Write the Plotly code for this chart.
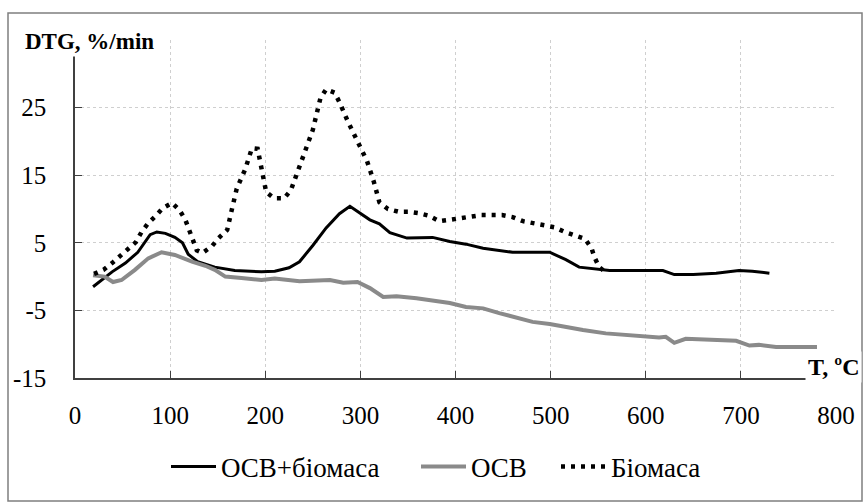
import plotly.graph_objects as go

# OCB + biomass
t_mix = [19, 30, 39, 53, 66, 79, 86, 95, 105, 113, 119, 129, 147, 168, 196, 210, 225, 236, 250, 264,
         278, 289, 299, 310, 320, 331, 349, 376, 394, 411, 429, 446, 460, 499, 509, 516, 530, 549, 562,
         618, 630, 650, 674, 698, 712, 730]
v_mix = [-1.5, -0.3, 0.7, 2.0, 3.6, 6.2, 6.6, 6.4, 5.8, 5.0, 3.3, 2.2, 1.4, 0.9, 0.7, 0.8, 1.3, 2.2, 4.6, 7.2,
         9.3, 10.4, 9.5, 8.4, 7.8, 6.5, 5.7, 5.8, 5.2, 4.8, 4.2, 3.9, 3.6, 3.6, 3.0, 2.5, 1.4, 1.1, 0.9,
         0.9, 0.3, 0.3, 0.5, 0.9, 0.8, 0.5]

# OCB
t_ocb = [19, 31, 40, 49, 63, 77, 91, 105, 123, 137, 147, 158, 175, 196, 210, 236, 268, 282, 297, 310,
         324, 338, 359, 376, 394, 411, 429, 446, 464, 481, 499, 516, 534, 558, 597, 614, 621, 630, 642,
         667, 695, 709, 719, 737, 780]
v_ocb = [0.2, 0.0, -0.8, -0.5, 1.0, 2.7, 3.6, 3.2, 2.2, 1.6, 1.0, 0.0, -0.2, -0.5, -0.3, -0.7, -0.5, -0.9, -0.8, -1.7,
         -3.0, -2.9, -3.2, -3.5, -3.9, -4.5, -4.7, -5.4, -6.1, -6.7, -7.0, -7.5, -7.9, -8.4, -8.8, -9.0, -8.9, -9.8, -9.2,
         -9.4, -9.5, -10.2, -10.1, -10.4, -10.4]

# Biomass
t_bio = [20, 30, 39, 47, 56, 64, 70, 77, 85, 92, 102, 110, 116, 120, 123, 128, 134, 144, 151, 160,
         165, 170, 179, 186, 192, 196, 201, 209, 220, 227, 235, 243, 250, 258, 264, 273, 278, 287, 297,
         307, 314, 320, 329, 340, 351, 361, 372, 383, 394, 416, 427, 449, 460, 471, 493, 504, 515, 525,
         536, 543, 546, 551, 560]
v_bio = [0.4, 1.0, 2.0, 3.0, 4.1, 5.1, 6.6, 7.9, 9.0, 10.1, 10.9, 9.8, 8.4, 6.9, 5.4, 3.9, 3.5, 4.5, 5.7, 6.9,
         10.0, 13.0, 15.9, 19.0, 18.9, 15.8, 12.5, 11.6, 11.6, 12.8, 15.8, 18.7, 21.7, 26.4, 27.7, 27.2, 25.8, 22.9, 19.9,
         17.1, 14.1, 11.0, 10.0, 9.6, 9.6, 9.4, 9.0, 8.2, 8.4, 8.8, 9.1, 9.1, 8.8, 8.2, 7.5, 7.3, 6.6, 6.2,
         5.6, 4.2, 2.9, 1.4, 0.4]

x_ticks = [0, 100, 200, 300, 400, 500, 600, 700, 800]
y_ticks = [-15, -5, 5, 15, 25, 35]
y_ticktext = ["-15", "-5", "5", "15", "25", ""]

FONT = "Liberation Serif"

fig = go.Figure()
fig.add_trace(go.Scatter(x=t_mix, y=v_mix, mode="lines", name="ОСВ+біомаса", legend="legend",
                         line=dict(color="#000000", width=3)))
fig.add_trace(go.Scatter(x=t_ocb, y=v_ocb, mode="lines", name="ОСВ", legend="legend2",
                         line=dict(color="#8a8a8a", width=4)))
fig.add_trace(go.Scatter(x=t_bio, y=v_bio, mode="lines", name="Біомаса", legend="legend3",
                         line=dict(color="#000000", width=4.5, dash="4px,6px")))

L, R, T, B = 75, 28, 40, 124
W, H = 864, 502
pw, ph = W - L - R, H - T - B

def px_x(p):
    return (p - L) / pw

def px_y(p):
    return (H - B - p) / ph

def leg(xpx):
    return dict(orientation="h", x=px_x(xpx), xanchor="left", y=px_y(467), yanchor="middle",
                font=dict(size=27, family=FONT), itemwidth=45, bgcolor="rgba(0,0,0,0)")

fig.update_layout(
    width=W, height=H,
    margin=dict(l=L, r=R, t=T, b=B, autoexpand=False),
    paper_bgcolor="white", plot_bgcolor="white",
    font=dict(family=FONT, color="#000000"),
    showlegend=True,
    legend=leg(166),
    legend2=leg(416),
    legend3=leg(556),
    xaxis=dict(range=[0, 800], tickvals=x_ticks, ticks="inside", ticklen=7, tickcolor="#404040",
               showline=True, linecolor="#404040", linewidth=1.5, automargin=False,
               showgrid=True, gridcolor="#cfcfcf", griddash="3px,3px", gridwidth=1,
               tickfont=dict(size=25, family=FONT), ticklabelstandoff=14, zeroline=False),
    yaxis=dict(range=[-15, 35], tickvals=y_ticks, ticktext=y_ticktext, ticks="inside", ticklen=7,
               tickcolor="#404040", automargin=False,
               showline=True, linecolor="#404040", linewidth=1.5,
               showgrid=True, gridcolor="#cfcfcf", griddash="3px,3px", gridwidth=1,
               tickfont=dict(size=25, family=FONT), ticklabelstandoff=22, zeroline=False),
    annotations=[
        dict(text="<b>DTG, %/min</b>", xref="paper", yref="paper", x=px_x(22), y=px_y(41),
             xanchor="left", yanchor="middle", showarrow=False, bgcolor="white",
             font=dict(size=23, family=FONT), borderpad=2),
        dict(text="<b>T, ºC</b>", xref="paper", yref="paper", x=px_x(805), y=px_y(367),
             xanchor="left", yanchor="middle", showarrow=False, bgcolor="white",
             font=dict(size=24, family=FONT), borderpad=2),
    ],
    shapes=[
        dict(type="rect", xref="paper", yref="paper", x0=px_x(8), x1=px_x(862), y0=px_y(501), y1=px_y(13),
             line=dict(color="#7f7f7f", width=1.5), layer="below"),
    ],
)

fig.write_html("out.html")
